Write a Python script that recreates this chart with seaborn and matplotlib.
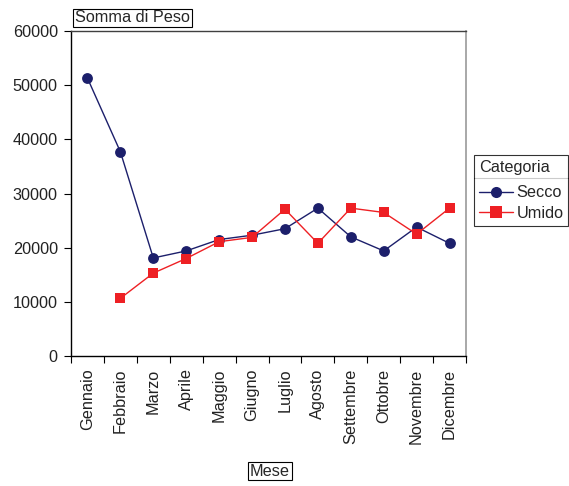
import numpy as np
import pandas as pd
import seaborn as sns
import matplotlib.pyplot as plt
from matplotlib.lines import Line2D
from matplotlib.ticker import FixedLocator, NullFormatter

mesi = ["Gennaio", "Febbraio", "Marzo", "Aprile", "Maggio", "Giugno",
        "Luglio", "Agosto", "Settembre", "Ottobre", "Novembre", "Dicembre"]
secco = [51300, 37700, 18100, 19400, 21500, 22300, 23500, 27300, 22000, 19400, 23800, 20800]
umido = [np.nan, 10650, 15300, 18000, 21100, 21900, 27100, 20800, 27300, 26500, 22500, 27300]
categorie = ["Secco", "Umido"]
colori = {"Secco": "#1c1f6b", "Umido": "#ee2024"}
marcatori = {"Secco": "o", "Umido": "s"}

FS = 11.7

df = pd.concat([
    pd.DataFrame({"pos": range(len(mesi)), "Mese": mesi, "Peso": secco, "Categoria": "Secco"}),
    pd.DataFrame({"pos": range(len(mesi)), "Mese": mesi, "Peso": umido, "Categoria": "Umido"}),
]).dropna()

sns.set_theme(style="white")
plt.rcParams["font.family"] = ["Liberation Sans", "DejaVu Sans"]

fig = plt.figure(figsize=(5.69, 4.86), dpi=100)
ax = fig.add_axes([71 / 569, 1 - 356 / 486, (466 - 71) / 569, (356 - 31) / 486])

sns.lineplot(data=df, x="pos", y="Peso", hue="Categoria", style="Categoria",
             palette=colori, markers=marcatori, dashes=False, linewidth=1,
             markersize=7.8, markeredgewidth=0, legend=False, ax=ax)

ax.set_xlim(-0.5, len(mesi) - 0.5)
ax.set_ylim(0, 60000)
ax.set_yticks(np.arange(0, 60001, 10000))
ax.set_yticklabels([str(v) for v in range(0, 60001, 10000)], fontsize=FS, color="#222222")
ax.set_xticks(range(len(mesi)))
ax.set_xticklabels(mesi, rotation=90, fontsize=FS, color="#222222")
ax.xaxis.set_minor_locator(FixedLocator(np.arange(-0.5, len(mesi), 1)))
ax.xaxis.set_minor_formatter(NullFormatter())
ax.tick_params(axis="x", which="major", length=0, pad=9)
ax.tick_params(axis="x", which="minor", length=5, width=0.8, color="black", direction="out", bottom=True)
ax.tick_params(axis="y", length=5, width=0.8, color="black", direction="out", left=True, pad=4.5)
ax.set_xlabel("")
ax.set_ylabel("")

for lato in ["left", "bottom", "top"]:
    ax.spines[lato].set_color("black")
    ax.spines[lato].set_linewidth(1)
ax.spines["top"].set_color("#404040")
ax.spines["right"].set_color("#9a9a9a")
ax.spines["right"].set_linewidth(1.2)

cornice = dict(boxstyle="square,pad=0.12", facecolor="white", edgecolor="black", linewidth=0.8)
fig.text(75 / 569, 1 - 18 / 486, "Somma di Peso", fontsize=FS, va="center", ha="left", bbox=cornice)
fig.text(270 / 569, 1 - 471 / 486, "Mese", fontsize=FS, va="center", ha="center", bbox=cornice)

maniglie = [Line2D([0], [0], color=colori[c], marker=marcatori[c], markersize=8,
                   markeredgewidth=0, linewidth=1) for c in categorie]
leg = fig.legend(maniglie, categorie, title="Categoria", loc="upper left",
                 bbox_to_anchor=(474 / 569, 1 - 155 / 486), fontsize=FS, title_fontsize=FS,
                 frameon=True, fancybox=False, edgecolor="black", handlelength=2.1,
                 handletextpad=0.2, borderpad=0.3, labelspacing=0.32, borderaxespad=0)
leg.get_frame().set_linewidth(0.8)
leg._legend_box.align = "left"
# wider gap between the legend title and its entries
leg._legend_box.sep = 0.65 * FS

fig.canvas.draw()
r = fig.canvas.get_renderer()
bb_leg = leg.get_window_extent(r)
bb_tit = leg.get_title().get_window_extent(r)
y_sep = (bb_tit.y0 - 3) / fig.bbox.height
fig.add_artist(Line2D([bb_leg.x0 / fig.bbox.width, bb_leg.x1 / fig.bbox.width], [y_sep, y_sep],
                      color="black", linewidth=0.8, transform=fig.transFigure))

fig.savefig("out.png", dpi=100, facecolor="white")
